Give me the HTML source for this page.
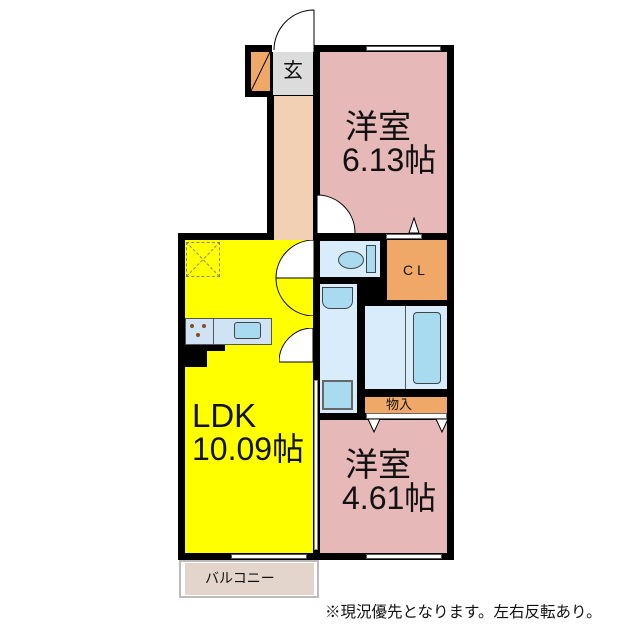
<!DOCTYPE html>
<html><head><meta charset="utf-8"><style>
body{margin:0;width:640px;height:640px;background:#fff;position:relative;overflow:hidden;font-family:"Liberation Sans","Noto Sans CJK JP",sans-serif}
div{position:absolute;box-sizing:border-box}
.t{color:#111;white-space:nowrap;line-height:1}
</style></head><body>
<div style="left:245px;top:45px;width:209px;height:52px;background:#000"></div>
<div style="left:267px;top:45px;width:187px;height:242px;background:#000"></div>
<div style="left:311px;top:45px;width:143px;height:515px;background:#000"></div>
<div style="left:178px;top:233px;width:140px;height:327px;background:#000"></div>
<div style="left:272px;top:40px;width:42px;height:12px;background:#fff"></div>
<svg style="position:absolute;left:270px;top:8px" width="50" height="46"><path d="M44 2 L44 44 M44 2 A40 40 0 0 0 4 42" stroke="#000" fill="none" stroke-width="1"/></svg>
<div style="left:366px;top:46px;width:75px;height:5px;background:#fff;border:1px solid #555"></div>
<div style="left:273px;top:52px;width:40px;height:43px;background:#dcdcdc"></div>
<div class="t" style="left:283px;top:61px;font-size:20px">玄</div>
<div style="left:251px;top:52px;width:19px;height:39px;background:#f0a868"></div>
<svg style="position:absolute;left:251px;top:52px" width="19" height="39"><line x1="19" y1="0" x2="0" y2="39" stroke="#000"/></svg>
<div style="left:274px;top:96px;width:39px;height:182px;background:#f2d0b4"></div>
<div style="left:274px;top:278px;width:39px;height:8px;background:#fff"></div>
<div style="left:320px;top:52px;width:127px;height:181px;background:#e6b8b8"></div>
<svg style="position:absolute;left:315px;top:193px" width="45" height="42"><path d="M2 40 L2 2 A38 38 0 0 1 40 40" fill="#fff" stroke="#000"/></svg>
<div class="t" style="left:345px;top:110px;font-size:33px">洋室</div>
<div class="t" style="left:342px;top:144px;font-size:32px">6.13帖</div>
<div style="left:185px;top:240px;width:128px;height:313px;background:#ffff00"></div>
<div style="left:186px;top:242px;width:34px;height:35px;border:1px dashed #887"></div>
<svg style="position:absolute;left:186px;top:242px" width="34" height="35"><path d="M0 0L34 35M34 0L0 35" stroke="#887" stroke-dasharray="3 2"/></svg>
<svg style="position:absolute;left:272px;top:240px" width="44" height="76"><path d="M42 38 L4 38 A38 38 0 0 1 42 0 Z" fill="#fff" stroke="#000"/><path d="M42 38 L4 38 A38 38 0 0 0 42 76" fill="none" stroke="#000"/></svg>
<svg style="position:absolute;left:279px;top:328px" width="36" height="36"><path d="M34 34 L34 0 A34 34 0 0 0 0 34 Z" fill="#fff" stroke="#000"/></svg>
<div style="left:185px;top:318px;width:87px;height:27px;background:#cfe3f5;border:1px solid #555"></div>
<div style="left:213px;top:319px;width:1px;height:25px;background:#555"></div>
<div style="left:234px;top:322px;width:27px;height:17px;background:#a8daf0;border:1px solid #444;border-radius:3px"></div>
<div style="left:190px;top:324px;width:4px;height:4px;background:#8a4b20;border-radius:2px"></div>
<div style="left:202px;top:324px;width:4px;height:4px;background:#8a4b20;border-radius:2px"></div>
<div style="left:196px;top:333px;width:4px;height:4px;background:#8a4b20;border-radius:2px"></div>
<div style="left:185px;top:345px;width:40px;height:6px;background:#000"></div>
<div style="left:185px;top:345px;width:22px;height:22px;background:#000"></div>
<div class="t" style="left:192px;top:399px;font-size:33px">LDK</div>
<div class="t" style="left:192px;top:433px;font-size:32px">10.09帖</div>
<div style="left:314px;top:380px;width:4px;height:170px;background:#fff;border:1px solid #888"></div>
<div style="left:320px;top:241px;width:60px;height:36px;background:#d8ecfb"></div>
<div style="left:338px;top:251px;width:26px;height:18px;border:1px solid #444;border-radius:50%;background:#a8daf0"></div>
<div style="left:366px;top:245px;width:10px;height:28px;border:1px solid #444;background:#a8daf0"></div>
<div style="left:387px;top:240px;width:60px;height:60px;background:#f0a868"></div>
<div class="t" style="left:403px;top:263px;font-size:14px;letter-spacing:4px">CL</div>
<div style="left:386px;top:234px;width:36px;height:5px;background:#fff;border:1px solid #666"></div>
<svg style="position:absolute;left:408px;top:217px" width="12" height="17"><path d="M1 16 L6 1 L11 16Z" fill="#fff" stroke="#000"/></svg>
<div style="left:320px;top:284px;width:37px;height:129px;background:#d8ecfb"></div>
<div style="left:322px;top:287px;width:31px;height:22px;border:1px solid #444;background:#a8daf0;border-radius:0 0 8px 8px"></div>
<div style="left:322px;top:380px;width:31px;height:30px;border:2px solid #666;background:#a8daf0"></div>
<div style="left:365px;top:306px;width:82px;height:83px;background:#d8ecfb"></div>
<div style="left:405px;top:306px;width:1px;height:83px;background:#555"></div>
<div style="left:413px;top:312px;width:28px;height:72px;border:1px solid #444;background:#a8daf0;border-radius:4px"></div>
<div style="left:365px;top:397px;width:82px;height:16px;background:#f0a868"></div>
<div class="t" style="left:386px;top:398px;font-size:13px">物入</div>
<div style="left:320px;top:420px;width:127px;height:133px;background:#e6b8b8"></div>
<div style="left:366px;top:413px;width:81px;height:6px;background:#fff;border:1px solid #666"></div>
<svg style="position:absolute;left:366px;top:419px" width="82" height="14"><path d="M2 0 L8 13 L14 0Z M70 0 L76 13 L82 0Z" fill="#fff" stroke="#000"/></svg>
<div class="t" style="left:345px;top:448px;font-size:33px">洋室</div>
<div class="t" style="left:342px;top:482px;font-size:32px">4.61帖</div>
<div style="left:231px;top:554px;width:76px;height:5px;background:#fff;border:1px solid #555"></div>
<div style="left:366px;top:554px;width:76px;height:5px;background:#fff;border:1px solid #555"></div>
<div style="left:179px;top:560px;width:140px;height:38px;border:2px solid #bbb;background:#fff"></div>
<div style="left:185px;top:563px;width:129px;height:32px;background:#e3d5cc"></div>
<div class="t" style="left:205px;top:571px;font-size:14px">バルコニー</div>
<div class="t" style="left:325px;top:605px;font-size:15.5px">※現況優先となります。左右反転あり。</div>
</body></html>
